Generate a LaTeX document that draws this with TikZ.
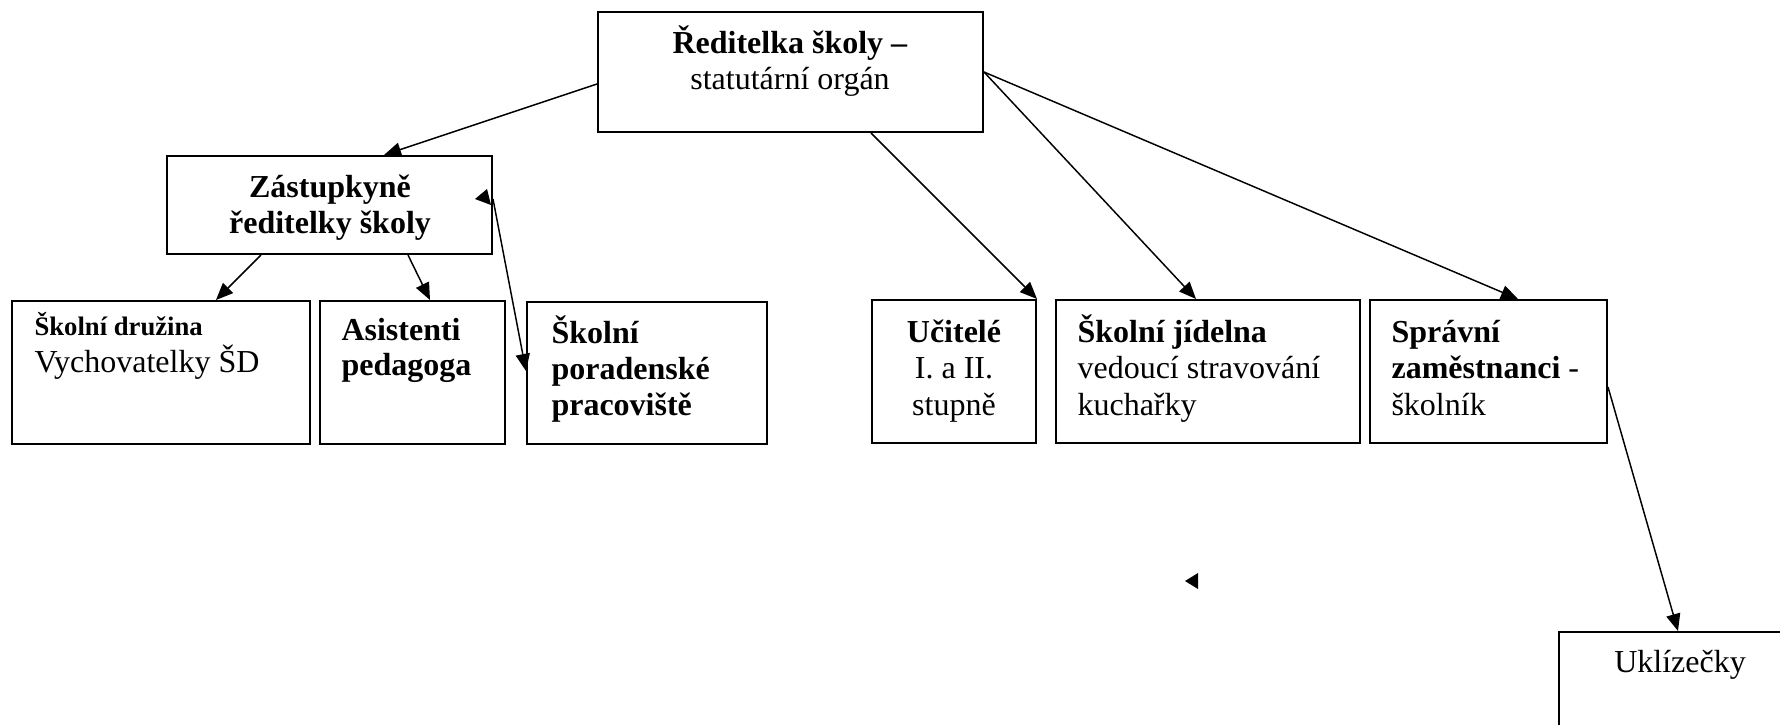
\documentclass[tikz,border=0pt]{standalone}
\usepackage{fontspec}
\setmainfont{Liberation Serif}
\usetikzlibrary{arrows.meta,fit,calc}
\tikzset{
  box/.style={draw, line width=0.75pt, inner sep=0pt},
  conn/.style={line width=0.55pt, -{Triangle[length=6.4pt,width=5.3pt]}},
  lbl/.style={inner sep=0pt, anchor=base west, font=\fontsize{12}{14}\selectfont},
  lblc/.style={lbl, anchor=base},
  lbls/.style={lbl, font=\fontsize{10}{12}\selectfont},
  tipfill/.style={fill=black, draw=none},
}
\begin{document}
\begin{tikzpicture}[x=0.375pt, y=-0.375pt]
\clip (0,0) rectangle (1780,724);
\fill[white] (0,0) rectangle (1780,724);
% box corners
\path (598,12) coordinate (dA) (983,132) coordinate (dB)
      (167,156) coordinate (zA) (492,254) coordinate (zB)
      (12,301) coordinate (drA) (310,444) coordinate (drB)
      (320,301) coordinate (aA) (505,444) coordinate (aB)
      (527,302) coordinate (pA) (767,444) coordinate (pB)
      (872,300) coordinate (uA) (1036,443) coordinate (uB)
      (1056,300) coordinate (jA) (1360,443) coordinate (jB)
      (1370,300) coordinate (sA) (1607,443) coordinate (sB)
      (1559,632) coordinate (kA) (1800,760) coordinate (kB);
\node[box, fit=(dA)(dB)] (dir) {};
\node[box, fit=(zA)(zB)] (zast) {};
\node[box, fit=(drA)(drB)] (druz) {};
\node[box, fit=(aA)(aB)] (asist) {};
\node[box, fit=(pA)(pB)] (porad) {};
\node[box, fit=(uA)(uB)] (ucit) {};
\node[box, fit=(jA)(jB)] (jid) {};
\node[box, fit=(sA)(sB)] (spr) {};
\node[box, fit=(kA)(kB)] (ukl) {};
% texts
\node[lblc] (t1) at (790,53) {\textbf{Ředitelka školy –}};
\node[lblc] (t2) at (790,89) {statutární orgán};
\node[lblc] (t3) at (330,197) {\textbf{Zástupkyně}};
\node[lblc] (t4) at (330,233) {\textbf{ředitelky školy}};
\node[lbls] (t5) at (34,335) {\textbf{Školní družina}};
\node[lbl] (t6) at (34,372) {Vychovatelky ŠD};
\node[lbl] (t7) at (341,340) {\textbf{Asistenti}};
\node[lbl] (t8) at (341,375) {\textbf{pedagoga}};
\node[lbl] (t9) at (551,343) {\textbf{Školní}};
\node[lbl] (t10) at (551,379) {\textbf{poradenské}};
\node[lbl] (t11) at (551,415) {\textbf{pracoviště}};
\node[lblc] (t12) at (954,342) {\textbf{Učitelé}};
\node[lblc] (t13) at (954,378) {I. a II.};
\node[lblc] (t14) at (954,415) {stupně};
\node[lbl] (t15) at (1077,342) {\textbf{Školní jídelna}};
\node[lbl] (t16) at (1077,378) {vedoucí stravování};
\node[lbl] (t17) at (1077,415) {kuchařky};
\node[lbl] (t18) at (1391,342) {\textbf{Správní}};
\node[lbl] (t19) at (1391,378) {\textbf{zaměstnanci} -};
\node[lbl] (t20) at (1391,415) {školník};
\node[lblc] (t21) at (1680,672) {Uklízečky};
% connectors
\draw[conn] ($(dir.north west)+(0,73)$) -- ($(zast.north west)+(218,0)$);
\draw[conn] ($(zast.south west)+(95,0)$) -- ($(druz.north west)+(205,0)$);
\draw[conn] ($(zast.south west)+(242,0)$) -- ($(asist.north west)+(111,0)$);
\draw[conn] ($(zast.north east)+(0,44)$) -- ($(porad.north west)+(0,70)$);
\fill[tipfill] (475,199) -- (487,189) -- (491,205) -- cycle;
\draw[conn] ($(dir.south west)+(274,0)$) -- (ucit.north east);
\draw[conn] ($(dir.north east)+(0,61)$) -- ($(jid.north west)+(141,0)$);
\draw[conn] ($(dir.north east)+(0,61)$) -- ($(spr.north west)+(149,0)$);
\draw[conn] ($(spr.north east)+(0,88)$) -- ($(ukl.north west)+(120,0)$);
\fill[tipfill] (1185,581) -- (1198,573) -- (1198,589) -- cycle;
\end{tikzpicture}
\end{document}
